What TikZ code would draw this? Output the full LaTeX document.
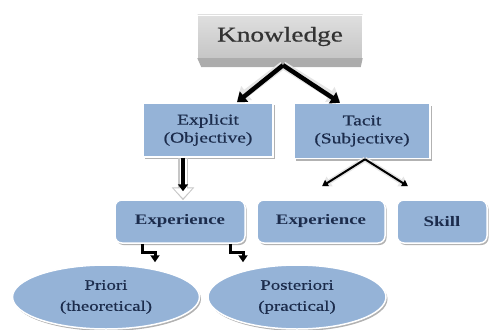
\documentclass[tikz,border=0pt]{standalone}
\usepackage{fontspec}
\setmainfont{Liberation Serif}[FakeStretch=1.3]
\newfontfamily\boxfont{Liberation Serif}[FakeStretch=1.3,FakeBold=0.6]
\usetikzlibrary{arrows.meta,positioning,shapes.geometric,shadows}
\definecolor{boxblue}{RGB}{149,179,215}
\definecolor{navytext}{RGB}{28,44,76}

\begin{document}
\begin{tikzpicture}[x=1pt,y=-1pt,
  box/.style={draw=white,line width=1.5pt,fill=boxblue,text=navytext,align=center,inner sep=0pt,font=\boxfont\fontsize{15}{18}\selectfont,drop shadow={shadow xshift=1.5pt,shadow yshift=-2pt,fill=gray!60,opacity=1}},
  rbox/.style={box,rounded corners=7pt,minimum height=43pt,font=\fontsize{14.5}{16}\selectfont\bfseries},
  oval/.style={box,ellipse,minimum height=64pt,font=\boxfont\fontsize{14.5}{21}\selectfont},
  halo/.style={-{Triangle[length=12pt,width=17pt]},line width=8pt,gray!20},
  arr/.style={-{Triangle[length=9pt,width=13pt]},line width=4.5pt},
  thin/.style={-{Triangle[length=6pt,width=7pt]},line width=2pt},
  elb/.style={-{Triangle[length=7pt,width=9pt]},line width=3pt}]
\useasboundingbox (0,0) rectangle (489,329);
% top box
\node[draw=white,top color=gray!25,bottom color=gray!45,minimum width=165pt,minimum height=43pt,inner sep=0pt,font=\boxfont\fontsize{21}{24}\selectfont,text=black!80] (know) at (280,36.5) {Knowledge};
\fill[gray!65] (know.south west) -- (know.south east) -- ([xshift=-2pt,yshift=-9pt]know.south east) -- ([xshift=4pt,yshift=-9pt]know.south west) -- cycle;
% second row
\node[box,minimum width=130pt,minimum height=54pt] (expl) at (208,130) {Explicit\\(Objective)};
\node[box,minimum width=136pt,minimum height=55pt] (tacit) at (362,131) {Tacit\\(Subjective)};
% third row
\node[rbox,minimum width=130pt] (expA) at (180,221.5) {Experience};
\node[rbox,minimum width=128pt] (expB) at (321,221.5) {Experience};
\node[rbox,minimum width=90pt] (skill) at (442,221.5) {Skill};
% bottom row
\node[oval,minimum width=187pt] (prio) at (106,297) {Priori\\(theoretical)};
\node[oval,minimum width=178pt] (post) at (297,297) {Posteriori\\(practical)};
% arrows
\draw[halo] ([xshift=3pt,yshift=-7pt]know.south) -- ([xshift=29pt,yshift=2pt]expl.north);
\draw[halo] ([xshift=3pt,yshift=-7pt]know.south) -- ([xshift=-22pt,yshift=2pt]tacit.north);
\draw[arr] ([xshift=3pt,yshift=-7pt]know.south) -- ([xshift=29pt]expl.north);
\draw[arr] ([xshift=3pt,yshift=-7pt]know.south) -- ([xshift=-22pt]tacit.north);
\draw[halo,gray!45,line width=10pt,-{Triangle[length=13pt,width=22pt]}] ([xshift=-25pt]expl.south) -- ([xshift=3pt,yshift=-1pt]expA.north);
\draw[halo,white,line width=7pt,-{Triangle[length=10pt,width=18pt]}] ([xshift=-25pt,yshift=-1pt]expl.south) -- ([xshift=3pt,yshift=1pt]expA.north);
\draw[arr,-{Triangle[length=7pt,width=10pt]}] ([xshift=-25pt]expl.south) -- ([xshift=3pt,yshift=8pt]expA.north);
\draw[halo,line width=5pt,-{Triangle[length=9pt,width=11pt]}] ([xshift=3pt]tacit.south) -- ([xshift=1pt,yshift=13pt]expB.north);
\draw[halo,line width=5pt,-{Triangle[length=9pt,width=11pt]}] ([xshift=3pt]tacit.south) -- ([xshift=-34pt,yshift=13pt]skill.north);
\draw[thin] ([xshift=3pt]tacit.south) -- ([xshift=1pt,yshift=13pt]expB.north);
\draw[thin] ([xshift=3pt]tacit.south) -- ([xshift=-34pt,yshift=13pt]skill.north);
\draw[elb] ([xshift=-38pt]expA.south) -- ++(0,9) -- ++(13,0) -- ([xshift=49pt,yshift=2pt]prio.north);
\draw[elb] ([xshift=50pt]expA.south) -- ++(0,9) -- ++(13,0) -- ([xshift=-54pt,yshift=2pt]post.north);
\end{tikzpicture}
\end{document}
